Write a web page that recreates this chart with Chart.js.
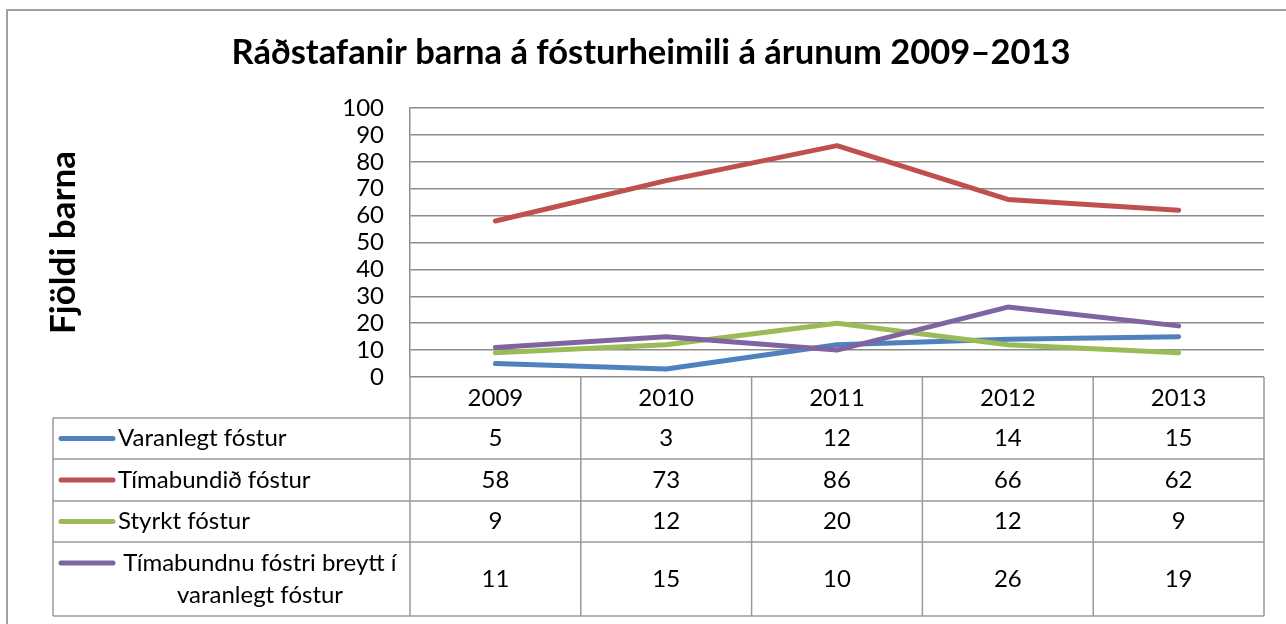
<!DOCTYPE html>
<html>
<head>
<meta charset="utf-8">
<script src="https://cdn.jsdelivr.net/npm/chart.js@4"></script>
<style>
    html, body { margin: 0; padding: 0; background: #fff; overflow: hidden; }
    #frame { position: absolute; left: 6px; top: 9px; width: 1400px; height: 800px; border: 2px solid #a0a0a0; }
    #wrap { position: absolute; left: 0; top: 0; width: 1286px; height: 624px; }
</style>
</head>
<body>
<div id="frame"></div>
<div id="wrap"><canvas id="chart" width="1286" height="624"></canvas></div>
<script>
// Chart data
const years = ['2009', '2010', '2011', '2012', '2013'];
const seriesNames = [
    ['Varanlegt fóstur'],
    ['Tímabundið fóstur'],
    ['Styrkt fóstur'],
    ['Tímabundnu fóstri breytt í', 'varanlegt fóstur']
];
const varanlegt = [5, 3, 12, 14, 15];
const timabundid = [58, 73, 86, 66, 62];
const styrkt = [9, 12, 20, 12, 9];
const breytt = [11, 15, 10, 26, 19];
const seriesColors = ['#4F81BD', '#C0504D', '#9BBB59', '#8064A2'];

const chartTitle = 'Ráðstafanir barna á fósturheimili á árunum 2009–2013';
const yTitle = 'Fjöldi barna';

const FONT = 'Lato, "Open Sans", sans-serif';
const GRID = '#8c8c8c';
const TABLE_LINE = '#9a9a9a';

// Data table drawn under the plot, like Excel's "show data table"
const dataTablePlugin = {
    id: 'dataTable',
    afterDraw(chart) {
        const { ctx, chartArea: a, scales: { x } } = chart;
        const colW = (a.right - a.left) / years.length;
        const tableLeft = 53;
        const rowHeights = [41, 42, 41, 74];
        const headerTop = a.bottom;
        const headerBottom = x.bottom;

        ctx.save();
        ctx.strokeStyle = TABLE_LINE;
        ctx.lineWidth = 1.5;

        // row boundaries
        const rowTops = [];
        let y = headerBottom;
        rowHeights.forEach(h => { rowTops.push(y); y += h; });
        const tableBottom = y;

        ctx.beginPath();
        rowTops.concat([tableBottom]).forEach(ry => {
            ctx.moveTo(tableLeft, ry);
            ctx.lineTo(a.right, ry);
        });
        // vertical lines
        ctx.moveTo(tableLeft, headerBottom);
        ctx.lineTo(tableLeft, tableBottom);
        for (let i = 0; i <= years.length; i++) {
            const vx = a.left + i * colW;
            ctx.moveTo(vx, headerTop);
            ctx.lineTo(vx, tableBottom);
        }
        ctx.stroke();

        // legend keys, labels and values
        ctx.font = '24px ' + FONT;
        ctx.fillStyle = '#000';
        ctx.textBaseline = 'middle';
        chart.data.datasets.forEach((ds, i) => {
            const top = rowTops[i];
            const h = rowHeights[i];
            const lines = seriesNames[i];
            const lineH = 32;
            const firstY = top + h / 2 - (lines.length - 1) * lineH / 2;

            ctx.strokeStyle = ds.borderColor;
            ctx.lineWidth = 5;
            ctx.lineCap = 'round';
            ctx.beginPath();
            ctx.moveTo(61, firstY);
            ctx.lineTo(113, firstY);
            ctx.stroke();

            if (lines.length === 1) {
                ctx.textAlign = 'left';
                ctx.fillText(lines[0], 118, firstY);
            } else {
                ctx.textAlign = 'center';
                lines.forEach((t, k) => ctx.fillText(t, 260, firstY + k * lineH));
            }

            ctx.textAlign = 'center';
            ds.data.forEach((v, j) => {
                ctx.fillText(String(v), x.getPixelForValue(j), top + h / 2);
            });
        });
        ctx.restore();
    }
};

function makeDataset(label, data, color, order) {
    return {
        label: label,
        data: data,
        borderColor: color,
        backgroundColor: color,
        borderWidth: 5,
        borderCapStyle: 'round',
        borderJoinStyle: 'round',
        pointRadius: 0,
        tension: 0,
        order: order
    };
}

const ctx = document.getElementById('chart');
const chart = new Chart(ctx, {
    type: 'line',
    data: {
        labels: years,
        datasets: [
            makeDataset(seriesNames[0].join(' '), varanlegt, seriesColors[0], 4),
            makeDataset(seriesNames[1].join(' '), timabundid, seriesColors[1], 3),
            makeDataset(seriesNames[2].join(' '), styrkt, seriesColors[2], 2),
            makeDataset(seriesNames[3].join(' '), breytt, seriesColors[3], 1)
        ]
    },
    options: {
        responsive: false,
        animation: false,
        layout: {
            padding: { left: 38, right: 22, top: 10, bottom: 206 }
        },
        plugins: {
            legend: { display: false },
            tooltip: { enabled: false },
            title: {
                display: true,
                text: chartTitle,
                color: '#000',
                font: { family: FONT, size: 34.5, weight: 'bold', lineHeight: 1.2 },
                padding: { top: 22, bottom: 34.6 }
            }
        },
        scales: {
            x: {
                offset: true,
                grid: { display: false, drawTicks: false },
                border: { display: false },
                ticks: {
                    color: '#000',
                    font: { family: FONT, size: 24 },
                    padding: 7,
                    maxRotation: 0
                },
                afterFit: axis => { axis.height = 41; }
            },
            y: {
                min: 0,
                max: 100,
                grid: { color: GRID, lineWidth: 1.5, drawTicks: false },
                border: { display: true, color: GRID, width: 1.5 },
                ticks: {
                    stepSize: 10,
                    autoSkip: false,
                    color: '#000',
                    font: { family: FONT, size: 24 },
                    padding: 26
                },
                title: {
                    display: true,
                    text: yTitle,
                    color: '#000',
                    font: { family: FONT, size: 35, weight: 'bold', lineHeight: 1.2 },
                    padding: { top: 5, bottom: 0 }
                },
                afterFit: axis => { axis.width = 372; }
            }
        }
    },
    plugins: [dataTablePlugin]
});
</script>
</body>
</html>
